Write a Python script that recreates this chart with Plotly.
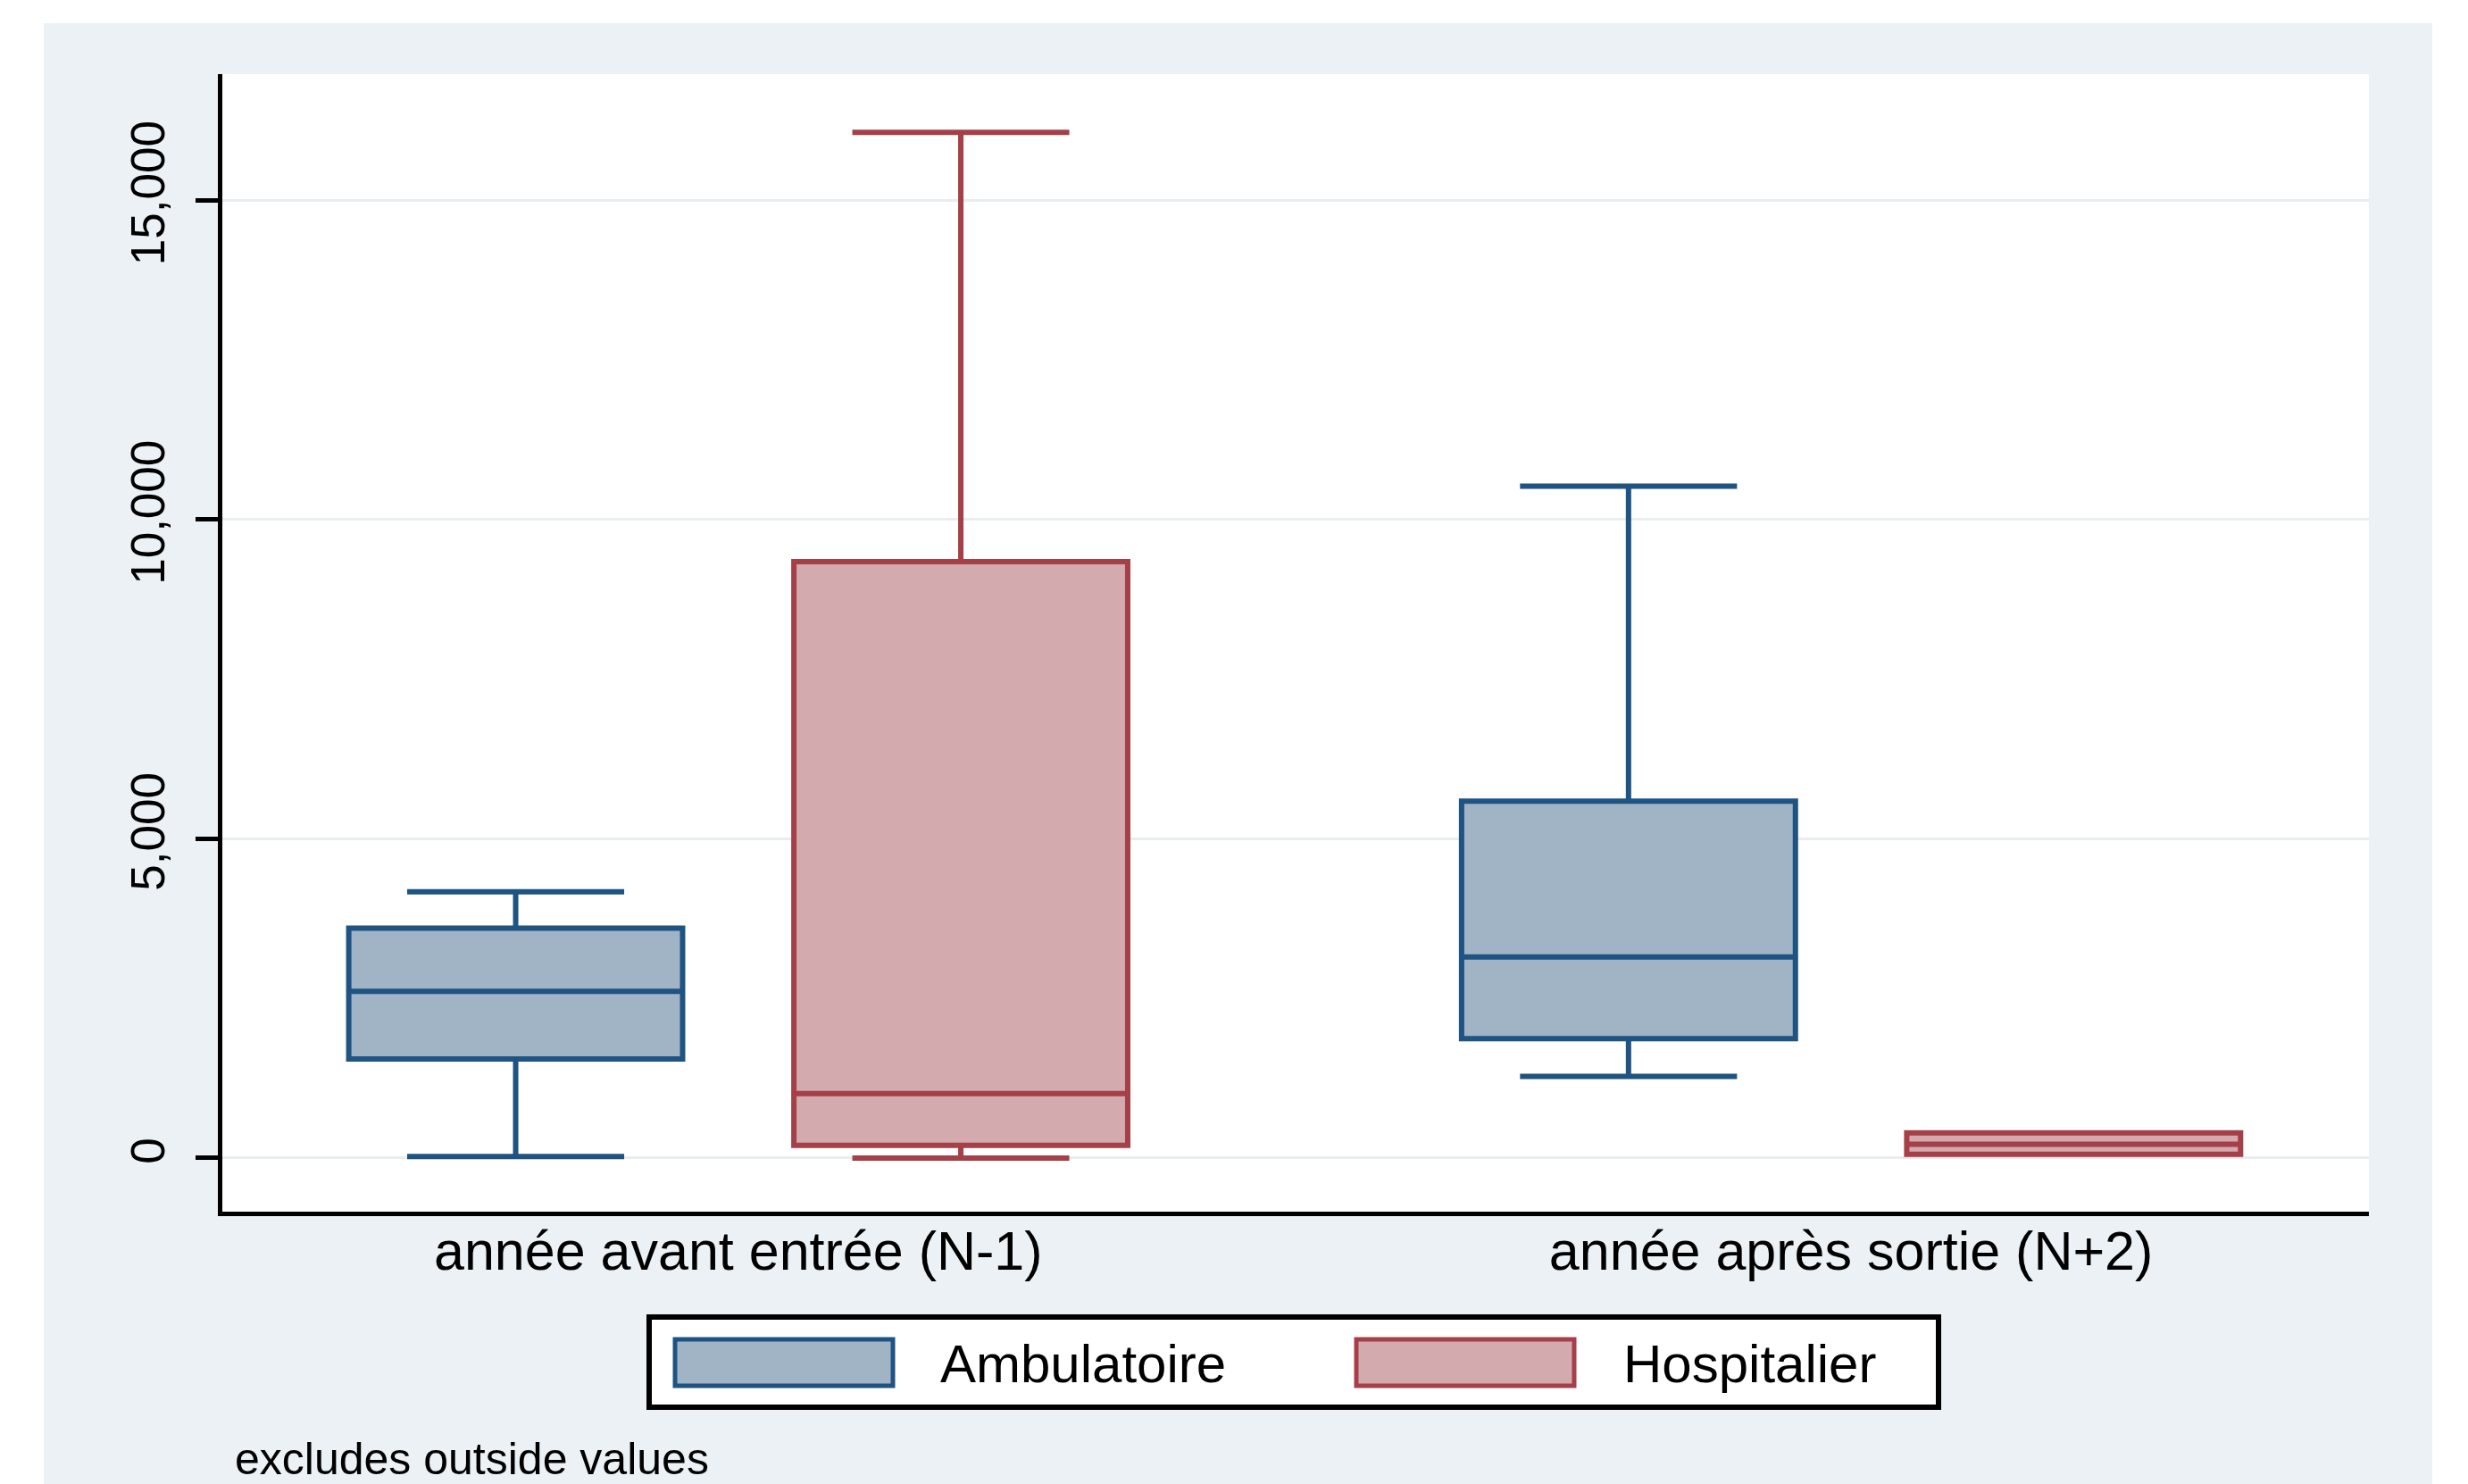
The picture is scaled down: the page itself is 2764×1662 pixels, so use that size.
import plotly.graph_objects as go

# ---------------- data ----------------
categories = ["année avant entrée (N-1)", "année après sortie (N+2)"]
series_names = ["Ambulatoire", "Hospitalier"]

amb_lower = [25, 1280]
amb_q1 = [1550, 1870]
amb_median = [2610, 3150]
amb_q3 = [3600, 5590]
amb_upper = [4170, 10520]

hosp_lower = [0, 60]
hosp_q1 = [200, 60]
hosp_median = [1010, 215]
hosp_q3 = [9340, 395]
hosp_upper = [16060, 395]

y_tickvals = [0, 5000, 10000, 15000]
y_ticktext = ["0", "5,000", "10,000", "15,000"]
note_text = "excludes outside values"

# ---------------- style ----------------
FONT = "Liberation Sans, Arial, Helvetica, sans-serif"
AMB_LINE = "#1F5382"
AMB_FILL = "#A0B4C6"
HOSP_LINE = "#A53F48"
HOSP_FILL = "#D3AAAE"
BG = "#EBF1F4"
GRID = "#E9EDEF"

W, H = 2764, 1662
ML, MR, MT, MB = 249, 111, 83, 305
PW = W - ML - MR
PH = H - MT - MB


def px_x(px):
    return (px - ML) / PW


def px_y(py):
    return (H - MB - py) / PH


fig = go.Figure()
fig.add_trace(go.Box(
    name=series_names[0], x=categories,
    q1=amb_q1, median=amb_median, q3=amb_q3,
    lowerfence=amb_lower, upperfence=amb_upper,
    fillcolor=AMB_FILL, line=dict(color=AMB_LINE, width=6),
    whiskerwidth=0.65, boxpoints=False,
))
fig.add_trace(go.Box(
    name=series_names[1], x=categories,
    q1=hosp_q1, median=hosp_median, q3=hosp_q3,
    lowerfence=hosp_lower, upperfence=hosp_upper,
    fillcolor=HOSP_FILL, line=dict(color=HOSP_LINE, width=6),
    whiskerwidth=0.65, boxpoints=False,
))

shapes = []
# white page margins around the grey graph region
for (x0, x1, y0, y1) in [(0, 49, 0, H), (0, W, 0, 26), (2724, W, 0, H)]:
    shapes.append(dict(type="rect", xref="paper", yref="paper",
                       x0=px_x(x0), x1=px_x(x1), y0=px_y(y1), y1=px_y(y0),
                       fillcolor="white", line=dict(width=0), layer="below"))
# legend frame
shapes.append(dict(type="rect", xref="paper", yref="paper",
                   x0=px_x(727), x1=px_x(2171), y0=px_y(1576), y1=px_y(1475),
                   fillcolor="white", line=dict(color="black", width=6), layer="above"))
# legend swatches
for (x0, x1, fc, lc) in [(756, 1000, AMB_FILL, AMB_LINE), (1519, 1763, HOSP_FILL, HOSP_LINE)]:
    shapes.append(dict(type="rect", xref="paper", yref="paper",
                       x0=px_x(x0), x1=px_x(x1), y0=px_y(1552), y1=px_y(1500),
                       fillcolor=fc, line=dict(color=lc, width=5), layer="above"))

annotations = [
    dict(text=series_names[0], xref="paper", yref="paper", x=px_x(1051), y=px_y(1527),
         xanchor="left", yanchor="middle", showarrow=False, font=dict(size=60, color="black")),
    dict(text=series_names[1], xref="paper", yref="paper", x=px_x(1816), y=px_y(1527),
         xanchor="left", yanchor="middle", showarrow=False, font=dict(size=60, color="black")),
    dict(text=note_text, xref="paper", yref="paper", x=px_x(261), y=px_y(1634),
         xanchor="left", yanchor="middle", showarrow=False, font=dict(size=50, color="black")),
]

fig.update_layout(
    width=W, height=H,
    margin=dict(l=ML, r=MR, t=MT, b=MB, pad=0),
    paper_bgcolor=BG, plot_bgcolor="white",
    boxmode="group", boxgap=0.2, boxgroupgap=0.25,
    showlegend=False,
    font=dict(family=FONT, color="black"),
    shapes=shapes, annotations=annotations,
)
fig.update_xaxes(
    type="category", range=[-0.4636, 1.4653],
    showline=True, linecolor="black", linewidth=5,
    ticks="", showgrid=False, zeroline=False,
    tickfont=dict(size=61, color="black"), ticklabelstandoff=-13,
)
fig.update_yaxes(
    range=[-839, 16972], tickvals=y_tickvals, ticktext=y_ticktext,
    tickangle=-90, ticks="outside", ticklen=25, tickwidth=5, tickcolor="black",
    showline=True, linecolor="black", linewidth=5,
    showgrid=True, gridcolor=GRID, gridwidth=3, zeroline=False,
    tickfont=dict(size=53, color="black"), ticklabelstandoff=14,
)

fig.write_html("out.html", config={"displayModeBar": False},
               post_script="document.body.style.margin='0';document.body.style.overflow='hidden';")
